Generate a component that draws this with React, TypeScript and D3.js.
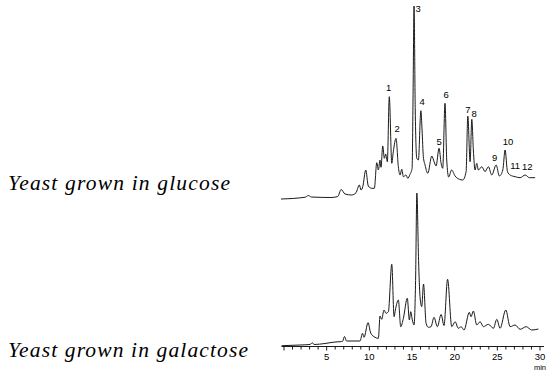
import React from "react";
import * as d3 from "d3";

// Retention time (min) and detector response (arbitrary units) – glucose-grown yeast
const glucoseTime = [-0.35, 2.5, 2.85, 3.2, 5.5, 6.3, 6.7, 7.15, 7.94, 8.44, 8.83, 9.03, 9.23, 9.58, 9.88, 10.28, 10.59, 10.87, 11.06, 11.25, 11.37, 11.57, 11.76, 11.92, 12.11, 12.34, 12.63, 12.81, 13.13, 13.4, 13.6, 13.8, 13.99, 14.3, 14.5, 14.77, 15.01, 15.12, 15.24, 15.38, 15.56, 15.75, 16.04, 16.18, 16.33, 16.53, 16.85, 17.32, 17.59, 17.82, 18.17, 18.41, 18.6, 18.87, 19.07, 19.3, 19.64, 20.05, 20.55, 20.95, 21.34, 21.54, 21.81, 22.01, 22.19, 22.39, 22.59, 22.78, 23.18, 23.56, 23.95, 24.35, 24.86, 25.24, 25.64, 25.91, 26.19, 26.5, 27.09, 27.67, 28.26, 28.76, 29.43];
const glucoseSignal = [1, 2.8, 4.5, 3, 2.5, 3.5, 10.5, 6, 5, 7.3, 15, 10, 13.3, 30, 14, 11.7, 11.7, 37.3, 30, 40, 32.7, 54, 41.7, 46, 38.3, 103.3, 36.7, 48.3, 61.7, 33.3, 25, 30.7, 23.3, 25, 21.7, 25.7, 31.7, 100, 194, 90, 41.7, 40, 89.3, 70, 43.3, 35, 26.7, 44, 38.3, 34, 51.7, 36.7, 31.7, 96.7, 40, 23, 30, 24, 20.7, 20, 28.3, 84, 38.3, 80.7, 50, 30, 36.7, 30, 33.3, 28.3, 33.3, 25, 35, 24, 30, 50, 28.3, 25, 23.3, 22.3, 25, 22.3, 22.3];

// Retention time (min) and detector response – galactose-grown yeast
const galactoseTime = [-0.27, 1.88, 3.05, 3.32, 3.52, 4.8, 5.98, 6.57, 6.86, 7.09, 7.33, 8.32, 8.91, 9.2, 9.38, 9.85, 10.16, 10.67, 11.06, 11.25, 11.45, 11.72, 11.96, 12.23, 12.63, 12.9, 13.05, 13.4, 13.68, 13.99, 14.45, 14.69, 14.85, 15.04, 15.24, 15.42, 15.57, 15.77, 15.94, 16.14, 16.35, 16.65, 16.92, 17.23, 17.58, 17.97, 18.41, 18.75, 19.17, 19.66, 20.05, 20.43, 20.75, 21.1, 21.72, 21.92, 22.19, 22.59, 22.98, 23.36, 23.95, 24.54, 24.94, 25.32, 25.99, 26.5, 27.08, 27.67, 28.37, 29.04, 29.81];
const galactoseSignal = [0.8, 1.5, 2, 3.8, 2, 3, 4.5, 4.8, 5.2, 10, 5.5, 5.5, 5.5, 13.2, 9.2, 23.8, 13.5, 9.2, 8.2, 30.5, 27.2, 36.5, 33.2, 34.8, 82.2, 29.8, 36.5, 46.5, 19.8, 28.2, 48.2, 26.5, 34.8, 26.5, 21.5, 66, 153.5, 86, 49.8, 39.8, 62.5, 23.2, 19.2, 19.8, 29.2, 19.8, 32, 21, 67.2, 19.8, 24.8, 18.2, 19.8, 16.5, 34.2, 29.8, 35.5, 21.5, 24.8, 19.8, 22.2, 18.2, 27.2, 18.2, 36.5, 19.8, 21.5, 17.2, 19.8, 16.5, 17.5];

// Peak numbers on the glucose trace: label, time, label height
const peakLabels = ["1", "2", "3", "4", "5", "6", "7", "8", "9", "10", "11", "12"];
const peakLabelTime = [12.25, 13.25, 15.71, 16.18, 18.17, 18.99, 21.56, 22.27, 24.7, 26.26, 27.09, 28.5];
const peakLabelHeight = [109, 68, 188, 95, 55, 102, 87, 83, 39, 55, 31, 30];

const majorTicks = [5, 10, 15, 20, 25, 30];
const minorTicks = d3.range(0, 31, 1);

const sampleLabels = ["Yeast grown in glucose", "Yeast grown in galactose"];

export default function App() {
  const W = 554, H = 372;
  const x = d3.scaleLinear().domain([0, 30]).range([284, 540]);
  const yTop = d3.scaleLinear().domain([0, 200]).range([200, 0]);
  const yBot = d3.scaleLinear().domain([0, 200]).range([346.5, 146.5]);

  const topData = glucoseTime.map((t, i) => [t, glucoseSignal[i]] as [number, number]);
  const botData = galactoseTime.map((t, i) => [t, galactoseSignal[i]] as [number, number]);

  const lineTop = d3.line<[number, number]>().x(d => x(d[0])).y(d => yTop(d[1])).curve(d3.curveMonotoneX);
  const lineBot = d3.line<[number, number]>().x(d => x(d[0])).y(d => yBot(d[1])).curve(d3.curveMonotoneX);

  const axisY = yBot(0);
  const sans = "Liberation Sans, Arial, sans-serif";
  const serif = "Liberation Serif, Times New Roman, serif";

  return (
    <svg width={W} height={H} style={{ position: "absolute", left: 0, top: 0, background: "#fff" }}>
      <path d={lineTop(topData) || ""} fill="none" stroke="#1a1a1a" strokeWidth={1} strokeLinejoin="round" />
      <path d={lineBot(botData) || ""} fill="none" stroke="#1a1a1a" strokeWidth={1} strokeLinejoin="round" />

      {peakLabels.map((lab, i) => (
        <text key={lab} x={x(peakLabelTime[i])} y={yTop(peakLabelHeight[i])} textAnchor="middle"
          fontFamily={sans} fontSize={9.5} fill="#000">{lab}</text>
      ))}

      <line x1={281.5} x2={544} y1={axisY} y2={axisY} stroke="#1a1a1a" strokeWidth={1.2} />
      {minorTicks.map(t => (
        <line key={t} x1={x(t)} x2={x(t)} y1={axisY} y2={axisY + (t % 5 === 0 ? 4 : 3)} stroke="#1a1a1a" strokeWidth={1} />
      ))}
      {majorTicks.map(t => (
        <text key={t} x={x(t)} y={axisY + 13.5} textAnchor="middle" fontFamily={sans} fontSize={9.5} fill="#000">{t}</text>
      ))}
      <text x={x(30)} y={axisY + 23} textAnchor="middle" fontFamily={sans} fontSize={7.5} fill="#000">min</text>

      <text x={8} y={189.5} fontFamily={serif} fontStyle="italic" fontSize={21.5} fill="#000"
        textLength={222} lengthAdjust="spacing">{sampleLabels[0]}</text>
      <text x={8} y={356.5} fontFamily={serif} fontStyle="italic" fontSize={21.5} fill="#000"
        textLength={240} lengthAdjust="spacing">{sampleLabels[1]}</text>
    </svg>
  );
}
